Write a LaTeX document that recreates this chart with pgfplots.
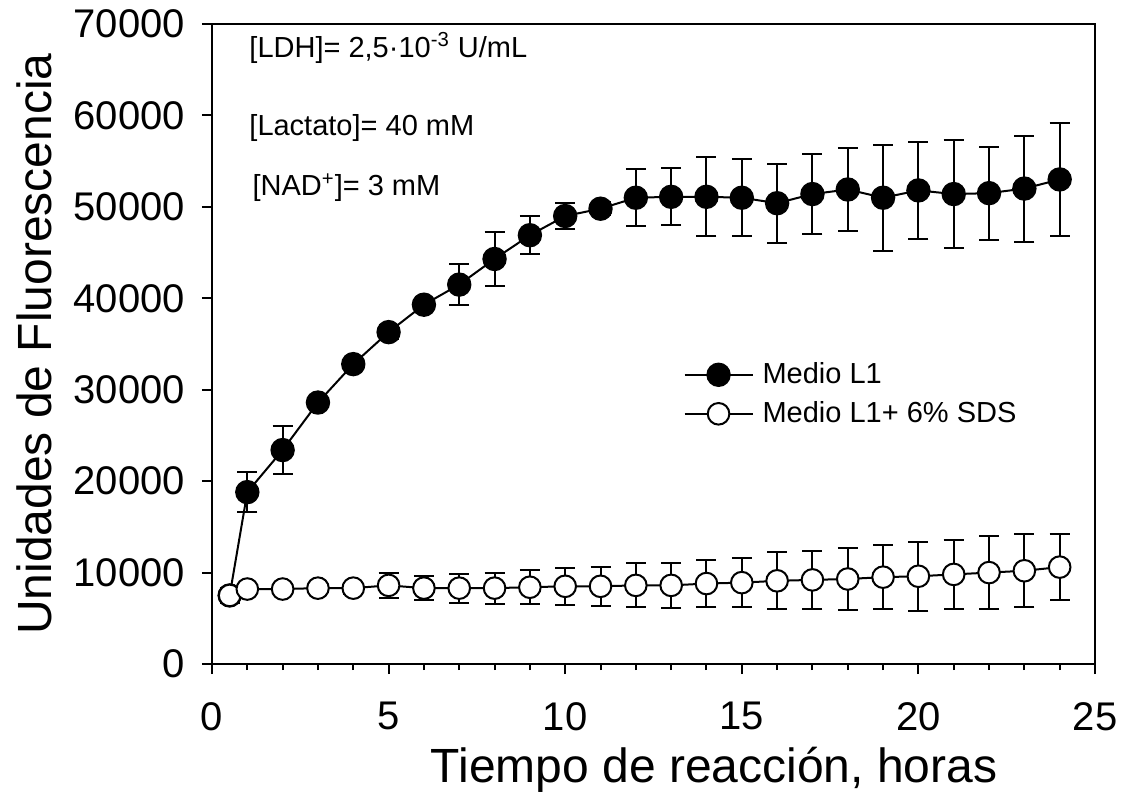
\documentclass[border=0pt]{standalone}
\usepackage{pgfplots}
\pgfplotsset{compat=1.18}
\usepackage{pgfplotstable}
\usepackage{fontspec}
\setmainfont{Liberation Sans}

\pgfplotstableread{
x y e
0.5 7500 500
1 18800 2200
2 23400 2600
3 28600 500
4 32800 500
5 36300 800
6 39300 500
7 41500 2200
8 44300 3000
9 46900 2100
10 49000 1400
11 49800 700
12 51000 3100
13 51100 3100
14 51100 4300
15 51000 4200
16 50400 4300
17 51400 4400
18 51900 4500
19 51000 5800
20 51800 5300
21 51400 5900
22 51500 5100
23 52000 5800
24 53000 6200
}\medioA

\pgfplotstableread{
x y e
0.5 7500 800
1 8200 500
2 8200 500
3 8300 500
4 8300 600
5 8600 1400
6 8300 1300
7 8300 1600
8 8300 1700
9 8400 1850
10 8500 2000
11 8500 2150
12 8600 2400
13 8600 2450
14 8800 2600
15 8900 2700
16 9100 3100
17 9200 3200
18 9300 3400
19 9500 3500
20 9600 3800
21 9800 3800
22 10000 4000
23 10200 4000
24 10600 3600
}\medioB

\begin{document}
\begin{tikzpicture}
\begin{axis}[
  at={(0,0)}, anchor=south west,
  scale only axis, width=441.5pt, height=320pt,
  xmin=0, xmax=25, ymin=0, ymax=70000,
  xtick={0,5,...,25}, minor x tick num=4,
  ytick={0,10000,...,70000},
  scaled y ticks=false,
  yticklabel style={xshift=-5pt, /pgf/number format/.cd, fixed, 1000 sep={}, assume math mode=true},
  xticklabel style={yshift=-10.5pt, /pgf/number format/assume math mode=true},
  tick label style={font=\fontsize{20}{24}\selectfont},
  tick align=outside, xtick pos=left, ytick pos=left,
  major tick length=5pt, minor tick length=3pt,
  every tick/.style={black, line width=1pt},
  axis line style={line width=1pt},
  xlabel={Tiempo de reacción, horas}, ylabel={Unidades de Fluorescencia},
  every axis x label/.style={at={(axis description cs:0.5687,-0.1656)}, anchor=center, font=\fontsize{24}{28}\selectfont},
  every axis y label/.style={at={(axis description cs:-0.2009,0.5)}, anchor=center, rotate=90, font=\fontsize{24}{28}\selectfont},
  legend style={draw=none, fill=none, at={(axis cs:13.17,29500)}, anchor=west, font=\fontsize{14.5}{17}\selectfont, row sep=3.5pt,
    nodes={inner xsep=4.5pt}},
  legend cell align=left,
  legend image code/.code={\draw[mark repeat=2,mark phase=2,#1] plot coordinates {(0pt,0pt) (17pt,0pt) (34pt,0pt)};},
]
\addplot[black, line width=1pt, mark=*, mark size=5.6pt, mark options={fill=black, solid},
  error bars/.cd, y dir=both, y explicit,
  error bar style={line width=1pt},
  error mark options={rotate=90, mark size=5pt, line width=1pt}]
  table[x=x, y=y, y error=e] {\medioA};
\addlegendentry{Medio L1}
\addplot[black, line width=1pt, mark=*, mark size=5.4pt, mark options={fill=white, solid},
  error bars/.cd, y dir=both, y explicit,
  error bar style={line width=1pt},
  error mark options={rotate=90, mark size=5pt, line width=1pt}]
  table[x=x, y=y, y error=e] {\medioB};
\addlegendentry{Medio L1+ 6\% SDS}
\node[anchor=west, font=\fontsize{14.5}{17}\selectfont] at (axis cs:0.86,67400) {[LDH]= 2,5·10\textsuperscript{-3} U/mL};
\node[anchor=west, font=\fontsize{14.5}{17}\selectfont] at (axis cs:0.86,58600) {[Lactato]= 40 mM};
\node[anchor=west, font=\fontsize{14.5}{17}\selectfont] at (axis cs:0.95,52100) {[NAD\textsuperscript{+}]= 3 mM};
\end{axis}
\pgfresetboundingbox
\path (-106pt,-73.5pt) rectangle (460.5pt,332pt);
\end{tikzpicture}
\end{document}
